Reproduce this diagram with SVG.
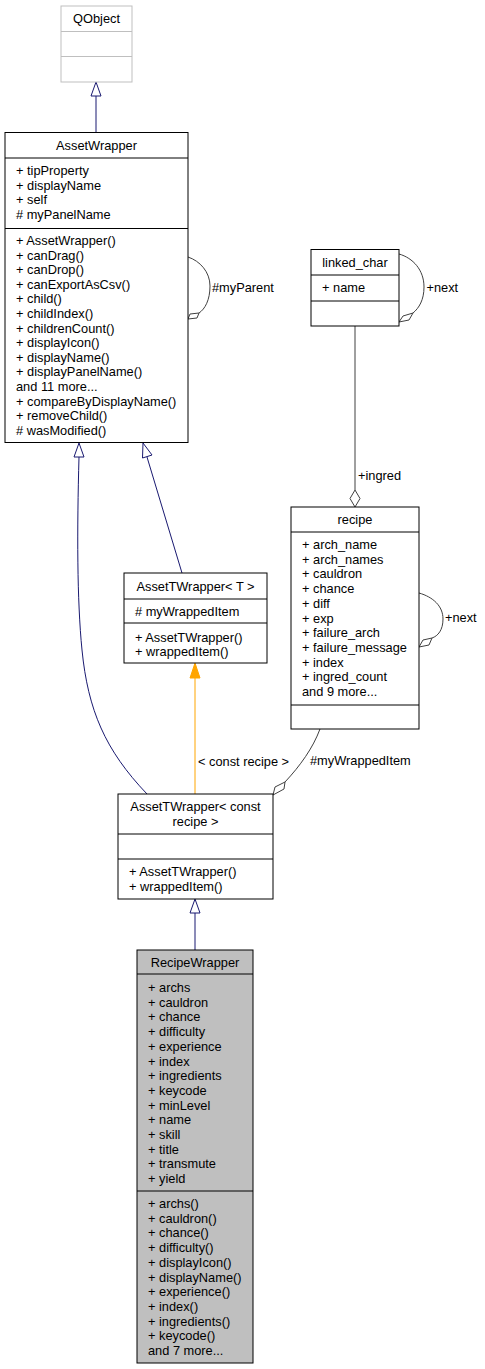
<svg xmlns="http://www.w3.org/2000/svg" width="485" height="1369" viewBox="0 0 485 1369">
<style>
text{font-family:"Liberation Sans",Arial,sans-serif;font-size:12.8px;fill:#000}
.c{text-anchor:middle}
.box{fill:#fff;stroke:#000;stroke-width:1}
.gray{fill:#fff;stroke:#bfbfbf;stroke-width:1}
.cur{fill:#bfbfbf;stroke:#000;stroke-width:1}
.sep{stroke:#000;stroke-width:1}
.sepg{stroke:#bfbfbf;stroke-width:1}
.inh{fill:none;stroke:#191970;stroke-width:1}
.inhh{fill:#fff;stroke:#191970;stroke-width:1}
.tpl{fill:none;stroke:orange;stroke-width:1}
.tplh{fill:orange;stroke:orange;stroke-width:1}
.use{fill:none;stroke:#404040;stroke-width:1}
.useh{fill:#fff;stroke:#404040;stroke-width:1}
</style>
<rect width="485" height="1369" fill="#fff"/>

<g id="connectors">
  <path class="inh" d="M96,96 L96,132"/>
  <polygon class="inhh" points="96,82 91,96 101,96"/>
  <path class="use" d="M188,257 C200,261 210,272 210,286 C210,300 205,309 199,313"/>
  <polygon class="useh" points="199,313 197,318 188,319 190,314"/>
  <text x="212" y="291.5">#myParent</text>
  <path class="use" d="M399,254 C413,258 424,270 424,287 C424,300 419,308 413,313"/>
  <polygon class="useh" points="413,313 409,320 399,322 403,316"/>
  <text x="426.5" y="291.5">+next</text>
  <path class="use" d="M355,326 L355,490"/>
  <polygon class="useh" points="355,490 360,498.5 355,507 350,498.5"/>
  <text x="358" y="479.5">+ingred</text>
  <path class="use" d="M419,593 C433,597 443,606 443,619 C443,630 438,636 432,638"/>
  <polygon class="useh" points="432,638 429,645 419,647 423,640"/>
  <text x="445" y="622">+next</text>
  <path class="inh" d="M147,457 L182,573"/>
  <polygon class="inhh" points="143,443 142.5,458 152,455"/>
  <path class="inh" d="M79,457 C77,530 77,600 82,650 C88,710 105,750 147,794"/>
  <polygon class="inhh" points="79,443 74,457 84,457"/>
  <path class="tpl" d="M195,678 L195,794"/>
  <polygon class="tplh" points="195,663 190,678 200,678"/>
  <text x="198" y="765.5">&lt; const recipe &gt;</text>
  <path class="use" d="M320,729 C313,748 300,766 285,782"/>
  <polygon class="useh" points="285,782 284,789 273,795 275,787"/>
  <text x="310" y="765">#myWrappedItem</text>
  <path class="inh" d="M195,913 L195,950"/>
  <polygon class="inhh" points="195,899 190,913 200,913"/>
</g>

<g id="QObject">
  <rect class="gray" x="61" y="6" width="71" height="76"/>
  <line class="sepg" x1="61" y1="31.5" x2="132" y2="31.5"/>
  <line class="sepg" x1="61" y1="56.5" x2="132" y2="56.5"/>
  <text class="c" x="96.5" y="22.5">QObject</text>
</g>

<g id="AssetWrapper">
  <rect class="box" x="5" y="132.5" width="183" height="310"/>
  <line class="sep" x1="5" y1="158" x2="188" y2="158"/>
  <line class="sep" x1="5" y1="228.5" x2="188" y2="228.5"/>
  <text class="c" x="96.5" y="149.5">AssetWrapper</text>
  <text x="16" y="175">+ tipProperty</text>
  <text x="16" y="189.5">+ displayName</text>
  <text x="16" y="204">+ self</text>
  <text x="16" y="218.5"># myPanelName</text>
  <text x="16" y="245">+ AssetWrapper()</text>
  <text x="16" y="259.6">+ canDrag()</text>
  <text x="16" y="274.2">+ canDrop()</text>
  <text x="16" y="288.8">+ canExportAsCsv()</text>
  <text x="16" y="303.4">+ child()</text>
  <text x="16" y="318">+ childIndex()</text>
  <text x="16" y="332.6">+ childrenCount()</text>
  <text x="16" y="347.2">+ displayIcon()</text>
  <text x="16" y="361.8">+ displayName()</text>
  <text x="16" y="376.4">+ displayPanelName()</text>
  <text x="16" y="391">and 11 more...</text>
  <text x="16" y="405.6">+ compareByDisplayName()</text>
  <text x="16" y="420.2">+ removeChild()</text>
  <text x="16" y="434.8"># wasModified()</text>
</g>

<g id="linked_char">
  <rect class="box" x="311" y="249.5" width="88" height="76.5"/>
  <line class="sep" x1="311" y1="275" x2="399" y2="275"/>
  <line class="sep" x1="311" y1="301" x2="399" y2="301"/>
  <text class="c" x="355" y="267">linked_char</text>
  <text x="322" y="292">+ name</text>
</g>

<g id="recipe">
  <rect class="box" x="291" y="507" width="128" height="222"/>
  <line class="sep" x1="291" y1="532" x2="419" y2="532"/>
  <line class="sep" x1="291" y1="705" x2="419" y2="705"/>
  <text class="c" x="355" y="524">recipe</text>
  <text x="302" y="549">+ arch_name</text>
  <text x="302" y="563.7">+ arch_names</text>
  <text x="302" y="578.4">+ cauldron</text>
  <text x="302" y="593.1">+ chance</text>
  <text x="302" y="607.8">+ diff</text>
  <text x="302" y="622.5">+ exp</text>
  <text x="302" y="637.2">+ failure_arch</text>
  <text x="302" y="651.9">+ failure_message</text>
  <text x="302" y="666.6">+ index</text>
  <text x="302" y="681.3">+ ingred_count</text>
  <text x="302" y="696">and 9 more...</text>
</g>

<g id="AssetTWrapper_T">
  <rect class="box" x="124" y="573" width="143" height="90"/>
  <line class="sep" x1="124" y1="599" x2="267" y2="599"/>
  <line class="sep" x1="124" y1="623" x2="267" y2="623"/>
  <text class="c" x="195.5" y="591">AssetTWrapper&lt; T &gt;</text>
  <text x="135" y="616"># myWrappedItem</text>
  <text x="135" y="641.5">+ AssetTWrapper()</text>
  <text x="135" y="656">+ wrappedItem()</text>
</g>

<g id="AssetTWrapper_const_recipe">
  <rect class="box" x="118" y="794" width="155" height="105"/>
  <line class="sep" x1="118" y1="834" x2="273" y2="834"/>
  <line class="sep" x1="118" y1="859" x2="273" y2="859"/>
  <text class="c" x="195.5" y="811">AssetTWrapper&lt; const</text>
  <text class="c" x="195.5" y="826">recipe &gt;</text>
  <text x="129" y="876">+ AssetTWrapper()</text>
  <text x="129" y="891">+ wrappedItem()</text>
</g>

<g id="RecipeWrapper">
  <rect class="cur" x="137" y="950" width="116" height="413"/>
  <line class="sep" x1="137" y1="974" x2="253" y2="974"/>
  <line class="sep" x1="137" y1="1191" x2="253" y2="1191"/>
  <text class="c" x="195" y="967">RecipeWrapper</text>
  <text x="148" y="992">+ archs</text>
  <text x="148" y="1006.7">+ cauldron</text>
  <text x="148" y="1021.4">+ chance</text>
  <text x="148" y="1036.1">+ difficulty</text>
  <text x="148" y="1050.8">+ experience</text>
  <text x="148" y="1065.5">+ index</text>
  <text x="148" y="1080.2">+ ingredients</text>
  <text x="148" y="1094.9">+ keycode</text>
  <text x="148" y="1109.6">+ minLevel</text>
  <text x="148" y="1124.3">+ name</text>
  <text x="148" y="1139">+ skill</text>
  <text x="148" y="1153.7">+ title</text>
  <text x="148" y="1168.4">+ transmute</text>
  <text x="148" y="1183.1">+ yield</text>
  <text x="148" y="1208">+ archs()</text>
  <text x="148" y="1222.7">+ cauldron()</text>
  <text x="148" y="1237.4">+ chance()</text>
  <text x="148" y="1252.1">+ difficulty()</text>
  <text x="148" y="1266.8">+ displayIcon()</text>
  <text x="148" y="1281.5">+ displayName()</text>
  <text x="148" y="1296.2">+ experience()</text>
  <text x="148" y="1310.9">+ index()</text>
  <text x="148" y="1325.6">+ ingredients()</text>
  <text x="148" y="1340.3">+ keycode()</text>
  <text x="148" y="1355">and 7 more...</text>
</g>
</svg>
